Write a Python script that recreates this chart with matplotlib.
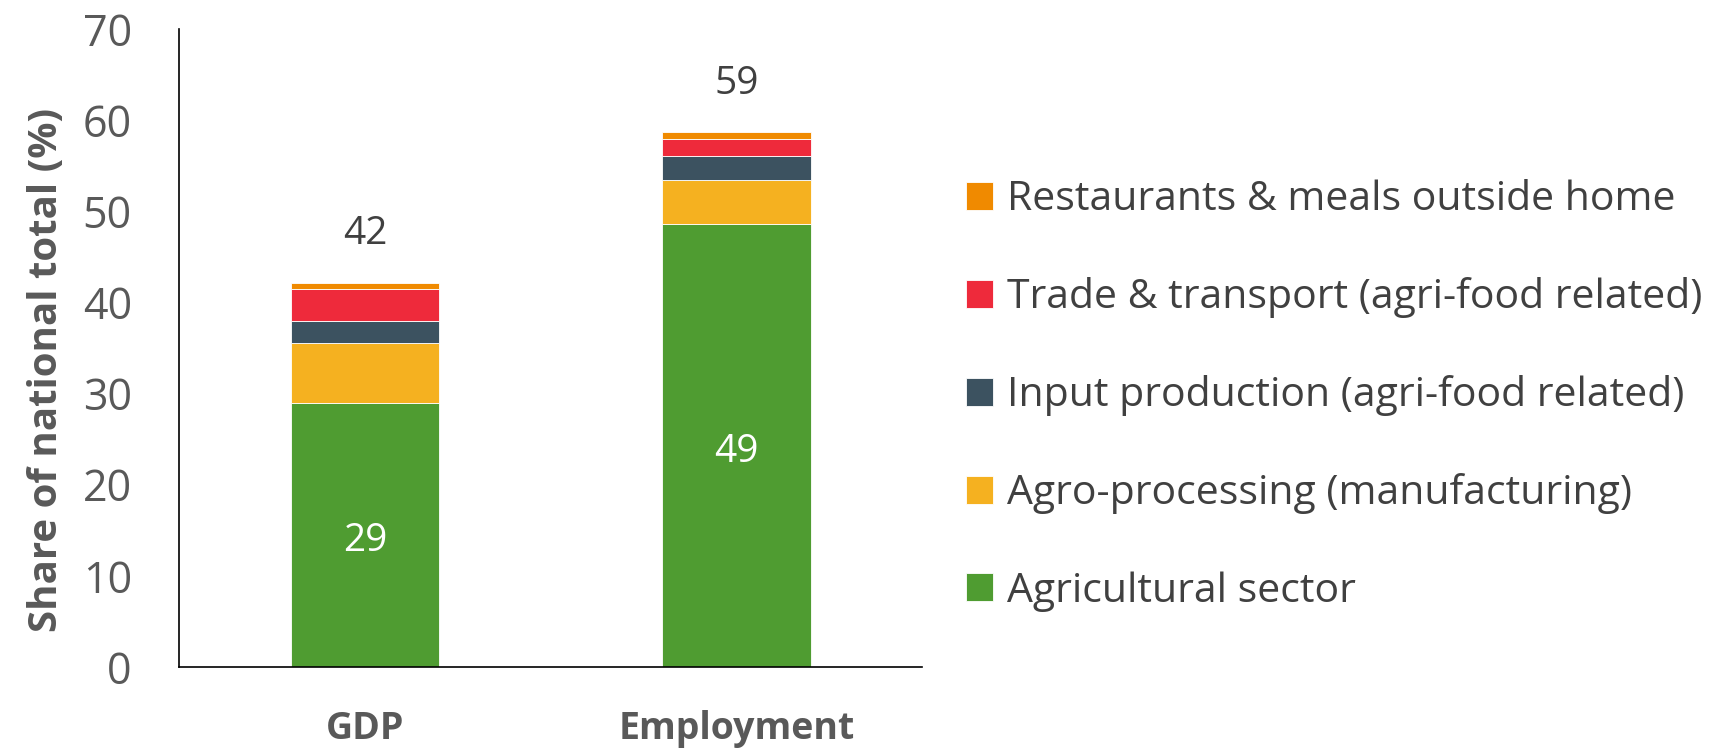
import matplotlib
matplotlib.use("Agg")
import matplotlib.pyplot as plt
import numpy as np

categories = ["GDP", "Employment"]
series_names = [
    "Agricultural sector",
    "Agro-processing (manufacturing)",
    "Input production (agri-food related)",
    "Trade & transport (agri-food related)",
    "Restaurants & meals outside home",
]
agricultural = [29.0, 48.6]
agro_processing = [6.6, 4.9]
input_production = [2.4, 2.6]
trade_transport = [3.5, 1.9]
restaurants = [0.7, 0.7]
total_labels = ["42", "59"]
agri_labels = ["29", "49"]

colors = ["#4f9c31", "#f5b120", "#3c5260", "#ee2a3b", "#f08a00"]

plt.rcParams['font.family'] = ['Open Sans', 'DejaVu Sans']

fig = plt.figure(figsize=(17.21, 7.51), dpi=100)
ax = fig.add_axes([0.104, 0.112, 0.432, 0.849])

x = np.arange(len(categories))
series = [agricultural, agro_processing, input_production, trade_transport, restaurants]
bottom = np.zeros(len(categories))
handles = []
for vals, name, col in zip(series, series_names, colors):
    b = ax.bar(x, vals, width=0.4, bottom=bottom, color=col, label=name,
               edgecolor='white', linewidth=0.6)
    handles.append(b)
    bottom += np.array(vals)

for i in range(len(categories)):
    ax.text(x[i], bottom[i] + 5.3, total_labels[i], ha='center', va='center',
            fontsize=28, color='#404040')
    ax.text(x[i], agricultural[i] / 2 - 0.7, agri_labels[i], ha='center', va='center',
            fontsize=28, color='white')

ax.set_xlim(-0.5, 1.5)
ax.set_ylim(0, 70)
ax.set_yticks(range(0, 71, 10))
ax.set_xticks(x)
ax.set_xticklabels(categories, fontsize=27, fontweight='bold', color='#595959')
ax.tick_params(axis='y', length=0, labelsize=31, labelcolor='#595959', pad=34)
ax.tick_params(axis='x', length=0, pad=31)
for s in ['top', 'right']:
    ax.spines[s].set_visible(False)
for s in ['left', 'bottom']:
    ax.spines[s].set_color('black')
    ax.spines[s].set_linewidth(1.2)

ax.set_ylabel("Share of national total (%)", fontsize=29, fontweight='bold',
              color='#595959')
ax.yaxis.set_label_coords(-0.152, 0.465)

leg = fig.legend(handles[::-1], series_names[::-1], loc='center left',
                 bbox_to_anchor=(0.5613, 0.473), frameon=False, fontsize=29.5,
                 borderpad=0, borderaxespad=0,
                 handlelength=0.66, handleheight=0.66, handletextpad=0.33,
                 labelspacing=1.39, labelcolor='#404040')

fig.savefig("out.png", dpi=100)
